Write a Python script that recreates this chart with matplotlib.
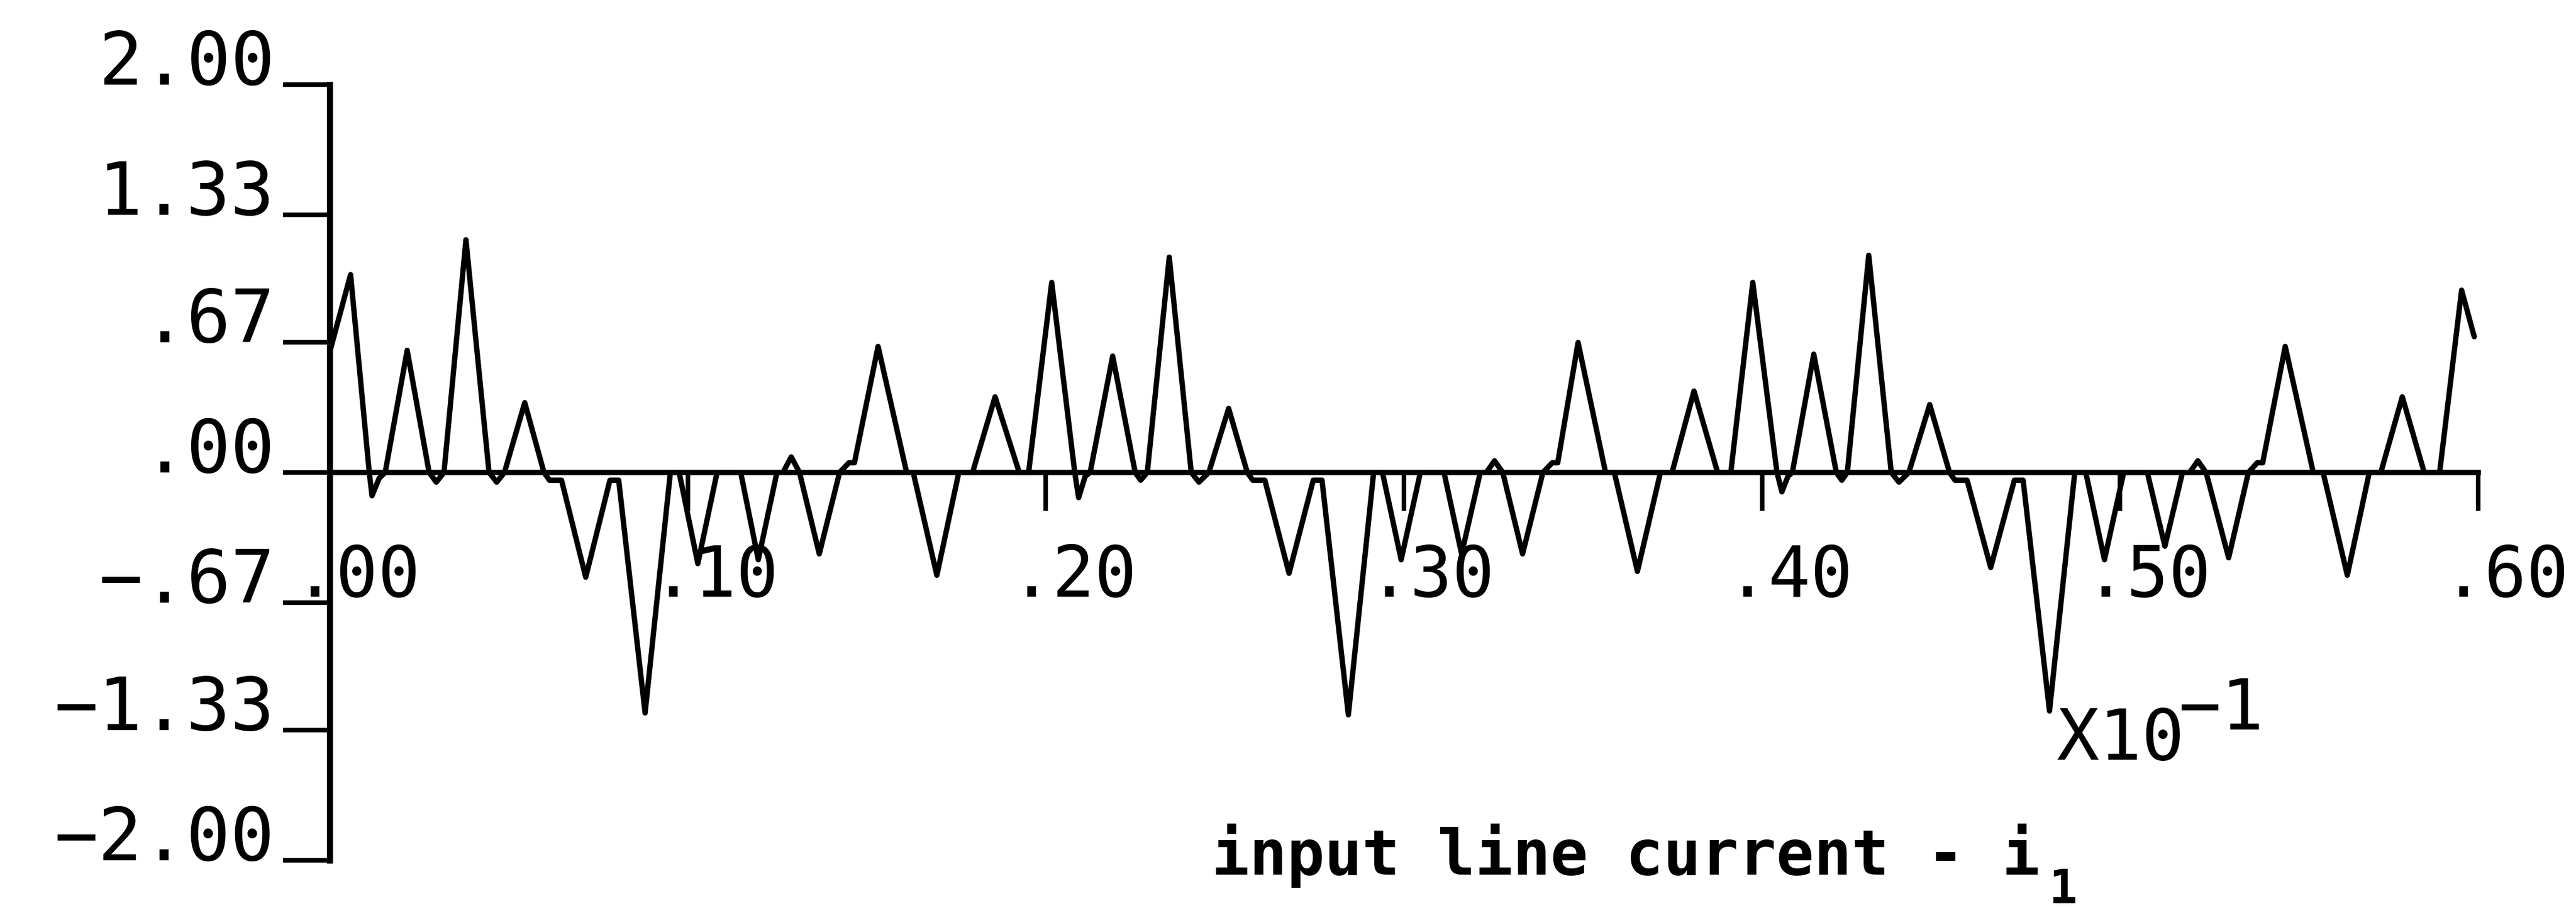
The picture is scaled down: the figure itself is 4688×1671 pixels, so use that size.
import matplotlib
matplotlib.use("Agg")
import matplotlib.pyplot as plt
from matplotlib import transforms

# ---- data -------------------------------------------------------------
# time axis in units of 1e-1 s, current in per-unit
cycle1_t = [0.0, 0.00583, 0.01105, 0.01182, 0.01381, 0.01550, 0.02164, 0.02777,
            0.02977, 0.03192, 0.03805, 0.04450, 0.04665, 0.04880, 0.05447, 0.05984,
            0.06138, 0.06475, 0.07150, 0.07826, 0.08071, 0.08808, 0.09514, 0.09759,
            0.10281, 0.10818, 0.11478, 0.11969, 0.12490, 0.12659, 0.12889, 0.13120,
            0.13672, 0.14240, 0.14500, 0.14654, 0.15314, 0.16112, 0.16296, 0.16956,
            0.17569, 0.17953, 0.18582, 0.19257]
cycle1_i = [0.62, 1.02, 0.0, -0.12, -0.03, 0.0, 0.63, 0.0,
            -0.05, 0.0, 1.20, 0.0, -0.05, 0.0, 0.36, 0.0,
            -0.04, -0.04, -0.54, -0.04, -0.04, -1.24, 0.0, 0.0,
            -0.47, 0.0, 0.0, -0.45, 0.0, 0.0, 0.08, 0.0,
            -0.42, 0.0, 0.05, 0.05, 0.65, 0.0, 0.0, -0.53,
            0.0, 0.0, 0.39, 0.0]

cycle2_t = [0.19518, 0.20163, 0.20807, 0.20915, 0.21098, 0.21237, 0.21866, 0.22495,
            0.22648, 0.22833, 0.23446, 0.24060, 0.24275, 0.24551, 0.25104, 0.25625,
            0.25779, 0.26116, 0.26791, 0.27467, 0.27712, 0.28448, 0.29154, 0.29400,
            0.29922, 0.30459, 0.31119, 0.31610, 0.32131, 0.32300, 0.32530, 0.32760,
            0.33313, 0.33881, 0.34141, 0.34295, 0.34863, 0.35630, 0.35876, 0.36520,
            0.37164, 0.37487, 0.38100, 0.38760]
cycle2_i = [0.0, 0.98, 0.0, -0.13, -0.02, 0.0, 0.60, 0.0,
            -0.04, 0.0, 1.11, 0.0, -0.05, 0.0, 0.33, 0.0,
            -0.04, -0.04, -0.52, -0.04, -0.04, -1.25, 0.0, 0.0,
            -0.45, 0.0, 0.0, -0.42, 0.0, 0.0, 0.06, 0.0,
            -0.42, 0.0, 0.05, 0.05, 0.67, 0.0, 0.0, -0.51,
            0.0, 0.0, 0.42, 0.0]

cycle3_t = [0.39128, 0.39742, 0.40417, 0.40555, 0.40724, 0.40847, 0.41445, 0.42075,
            0.42228, 0.42382, 0.42980, 0.43609, 0.43824, 0.44100, 0.44683, 0.45236,
            0.45389, 0.45727, 0.46386, 0.47046, 0.47292, 0.48028, 0.48734, 0.49041,
            0.49563, 0.50100, 0.50760, 0.51251, 0.51742, 0.51941, 0.52171, 0.52401,
            0.53031, 0.53583, 0.53828, 0.53982, 0.54611, 0.55394, 0.55670, 0.56345,
            0.56959, 0.57281, 0.57880, 0.58493, 0.58923, 0.59537, 0.59890]
cycle3_i = [0.0, 0.98, 0.0, -0.10, -0.02, 0.0, 0.61, 0.0,
            -0.04, 0.0, 1.12, 0.0, -0.05, 0.0, 0.35, 0.0,
            -0.04, -0.04, -0.49, -0.04, -0.04, -1.23, 0.0, 0.0,
            -0.45, 0.0, 0.0, -0.38, 0.0, 0.0, 0.06, 0.0,
            -0.44, 0.0, 0.05, 0.05, 0.65, 0.0, 0.0, -0.53,
            0.0, 0.0, 0.39, 0.0, 0.0, 0.94, 0.70]

x_ticks = [0.0, 0.1, 0.2, 0.3, 0.4, 0.5, 0.6]
x_tick_labels = [".00", ".10", ".20", ".30", ".40", ".50", ".60"]
y_ticks = [2.0, 1.33, 0.67, 0.0, -0.67, -1.33, -2.0]
y_tick_labels = ["2.00", "1.33", ".67", ".00", "\u2212.67", "\u22121.33", "\u22122.00"]

# ---- figure -----------------------------------------------------------
W, H, DPI = 4688, 1671, 100
fig = plt.figure(figsize=(W / DPI, H / DPI), dpi=DPI, facecolor="white")
ax = fig.add_axes([600 / W, 1 - 1566 / H, 3910 / W, (1566 - 154) / H])

t = cycle1_t + cycle2_t + cycle3_t
i = cycle1_i + cycle2_i + cycle3_i
ax.plot(t, i, color="black", linewidth=7, solid_joinstyle="round",
        solid_capstyle="round")

ax.set_xlim(0, 0.6)
ax.set_ylim(-2, 2)

for side in ("top", "right"):
    ax.spines[side].set_visible(False)
ax.spines["bottom"].set_position(("data", 0))
ax.spines["left"].set_linewidth(8)
ax.spines["bottom"].set_linewidth(7)

mono = "DejaVu Sans Mono"
px = 72 / DPI  # points per pixel

ax.set_yticks(y_ticks, y_tick_labels)
ax.set_xticks(x_ticks, x_tick_labels)
ax.tick_params(axis="y", direction="out", length=85 * px, width=6,
               pad=15 * px, labelsize=96)
ax.tick_params(axis="x", direction="out", length=70 * px, width=6,
               pad=58 * px, labelsize=92)
for lbl in ax.get_yticklabels():
    lbl.set_family(mono)
    lbl.set_verticalalignment("baseline")
shift = transforms.ScaledTranslation(50 / DPI, 0, fig.dpi_scale_trans)
for lbl in ax.get_xticklabels():
    lbl.set_family(mono)
    lbl.set_transform(lbl.get_transform() + shift)

# axis multiplier
fig.text(3743 / W, 1 - 1383 / H, "X10", family=mono, fontsize=93,
         ha="left", va="baseline")
fig.text(3965 / W, 1 - 1328 / H, "\u22121", family=mono, fontsize=93,
         ha="left", va="baseline")

# axis caption with subscript
ax.set_xlabel("input line current - i", family=mono, fontsize=82,
              fontweight="bold")
ax.xaxis.set_label_coords((2205 - 600) / 3910, (1566 - 1592) / 1412)
ax.xaxis.label.set_horizontalalignment("left")
ax.xaxis.label.set_verticalalignment("baseline")
fig.text(3728 / W, 1 - 1644 / H, "1", family=mono, fontsize=62,
         fontweight="bold", ha="left", va="baseline")

fig.savefig("out.png", dpi=DPI, facecolor="white")
